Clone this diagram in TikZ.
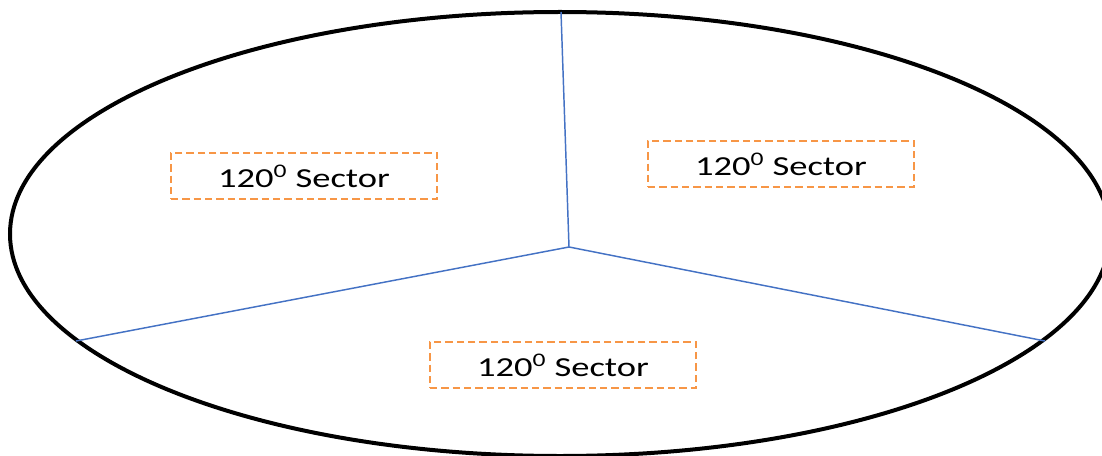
\documentclass[tikz,border=0pt]{standalone}
\usepackage{fontspec}
\setmainfont{Carlito}
\newfontfamily\wfont[FakeStretch=1.33]{Carlito}
\definecolor{spoke}{RGB}{68,114,196}
\definecolor{dorange}{RGB}{247,150,70}
\begin{document}
\begin{tikzpicture}[x=0.75pt,y=-0.75pt,
  sectorbox/.style={draw=dorange,line width=1.5pt,dash pattern=on 5.5pt off 3pt,
    minimum width=199.5pt,minimum height=34.5pt,inner sep=0pt,
    font=\wfont\fontsize{20.6}{24}\selectfont},
  spokeline/.style={draw=spoke,line width=1.1pt}]
\useasboundingbox (0,0) rectangle (1102,456);
\draw[line width=3pt] (560,234) ellipse [x radius=550, y radius=222];
\coordinate (c) at (569,247);
\coordinate (t) at (561,12);
\coordinate (l) at (76,341);
\coordinate (r) at (1045,341);
\draw[spokeline] (c) -- (t);
\draw[spokeline] (c) -- (l);
\draw[spokeline] (c) -- (r);
\node[sectorbox] (s1) at (304,176) {120\textsuperscript{0} Sector};
\node[sectorbox] (s2) at (781,164) {120\textsuperscript{0} Sector};
\node[sectorbox] (s3) at (563,365) {120\textsuperscript{0} Sector};
\end{tikzpicture}
\end{document}
